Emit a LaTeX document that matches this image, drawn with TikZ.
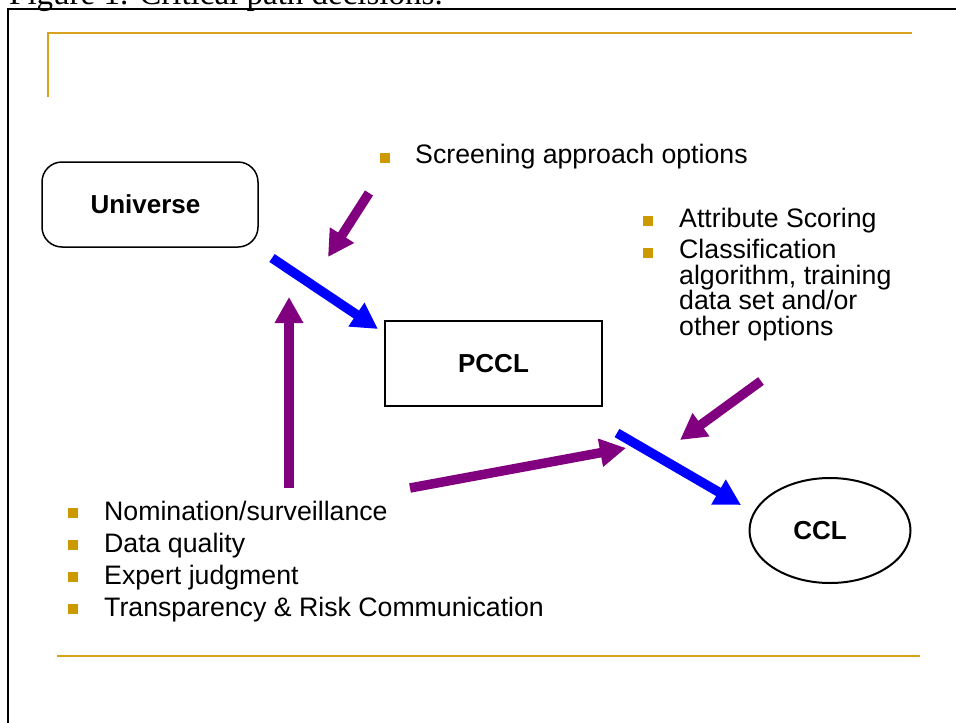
\documentclass[tikz,border=0pt]{standalone}
\usepackage{fontspec}
\setmainfont{Liberation Sans}
\newfontfamily\capfont{Liberation Serif}
\usetikzlibrary{arrows.meta,shapes.geometric}
\definecolor{gold}{RGB}{215,162,28}
\definecolor{bulletgold}{RGB}{204,153,0}
\definecolor{arrpurple}{RGB}{128,0,128}
\definecolor{arrblue}{RGB}{0,0,255}
\begin{document}
\begin{tikzpicture}[x=1pt,y=-1pt,
  fat/.style={line width=9.5pt, -{Triangle[length=26pt,width=27pt]}},
  bluearrow/.style={fat, draw=arrblue},
  purplearrow/.style={fat, draw=arrpurple},
  itemtext/.style={anchor=base west, inner sep=0pt, font=\fontsize{26.7}{26.7}\selectfont},
  bulletsq/.style={fill=bulletgold, minimum size=10pt, inner sep=0pt},
  boxtext/.style={font=\fontsize{26}{26}\selectfont\bfseries},
  goldline/.style={draw=gold, line width=2.5pt},
]
\useasboundingbox (0,0) rectangle (956,723);
\clip (0,0) rectangle (956,723);
\fill[white] (0,0) rectangle (956,723);
% caption (cut off at the top)
\node[anchor=base west, inner sep=0pt, font=\capfont\fontsize{33}{33}\selectfont] (cap) at (9,4) {Figure 1. Critical path decisions.};
% frame
\draw[line width=2pt] (8,724) -- (8,9) -- (957,9);
% gold rules
\draw[goldline] (48,97) -- (48,33) -- (912,33);
\draw[goldline] (57,656) -- (920,656);
% boxes
\node[draw, rounded corners=20pt, line width=1.5pt, minimum width=216pt, minimum height=85pt, boxtext] (univ) at (150,204.5) {Universe\kern9pt};
\node[draw, line width=1.5pt, minimum width=217pt, minimum height=85pt, boxtext] (pccl) at (493.5,363.5) {PCCL};
\node[draw, ellipse, line width=2pt, minimum width=161pt, minimum height=105pt, boxtext] (ccl) at (830,530.5) {CCL\kern20pt};
% arrow end points
\coordinate (b1s) at (272,258); \coordinate (b1e) at (378,329);
\coordinate (b2s) at (617,433); \coordinate (b2e) at (741,505);
\coordinate (p1s) at (369,193); \coordinate (p1e) at (328,257);
\coordinate (p2s) at (289,488); \coordinate (p2e) at (289,297);
\coordinate (p3s) at (410,488); \coordinate (p3e) at (626,448);
\coordinate (p4s) at (761,381); \coordinate (p4e) at (680,440);
\draw[bluearrow] (b1s) -- (b1e);
\draw[bluearrow] (b2s) -- (b2e);
\draw[purplearrow] (p1s) -- (p1e);
\draw[purplearrow] (p2s) -- (p2e);
\draw[purplearrow] (p3s) -- (p3e);
\draw[purplearrow] (p4s) -- (p4e);
% screening list
\node[bulletsq] (bs) at (385,157.5) {};
\node[itemtext] (ts) at (415,163) {Screening approach options};
% top right list
\node[bulletsq] (ba) at (648,220.5) {};
\node[itemtext] (ta) at (679,227) {Attribute Scoring};
\node[bulletsq] (bc) at (648,252.5) {};
\node[itemtext] (tc1) at (679,258) {Classification};
\node[itemtext] (tc2) at (679,284) {algorithm, training};
\node[itemtext] (tc3) at (679,309) {data set and/or};
\node[itemtext] (tc4) at (679,335) {other options};
% bottom list
\node[bulletsq] (bn) at (73,513) {};
\node[itemtext] (tn) at (104,520) {Nomination/surveillance};
\node[bulletsq] (bd) at (73,545) {};
\node[itemtext] (td) at (104,552) {Data quality};
\node[bulletsq] (be) at (73,577) {};
\node[itemtext] (te) at (104,584) {Expert judgment};
\node[bulletsq] (bt) at (73,609) {};
\node[itemtext] (tt) at (104,616) {Transparency \& Risk Communication};
\end{tikzpicture}
\end{document}
